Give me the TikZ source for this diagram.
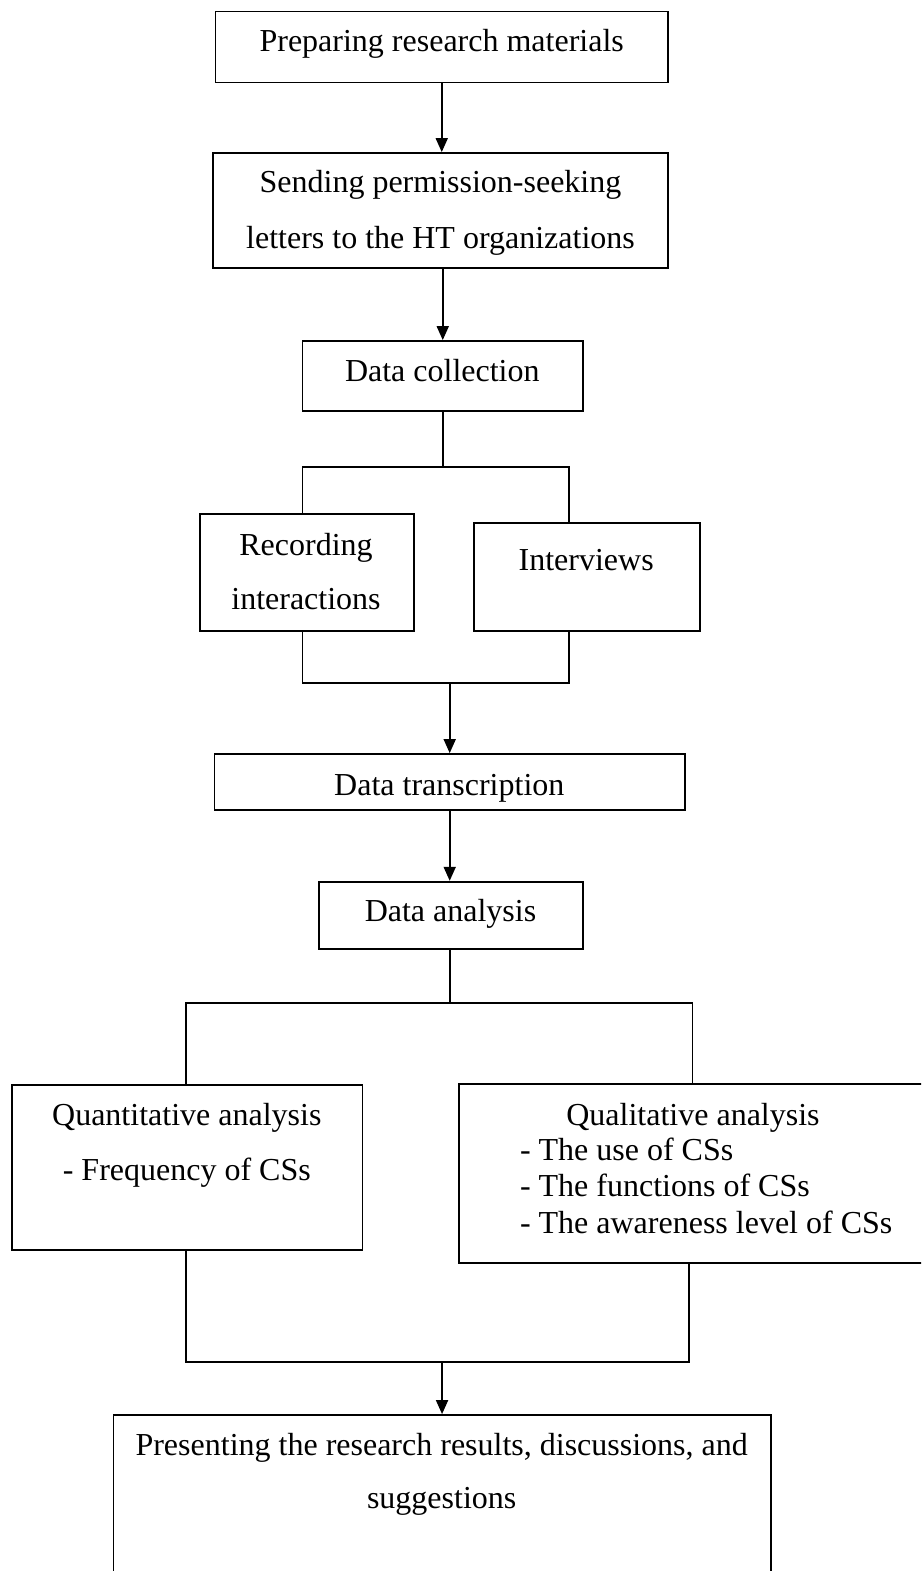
\documentclass[tikz,border=0pt]{standalone}
\usepackage{fontspec}
\setmainfont{Liberation Serif}
\usetikzlibrary{arrows.meta}
\begin{document}
\begin{tikzpicture}[x=1pt,y=-1pt,
  box/.style={draw, line width=1.8pt, inner sep=0pt, minimum width=#1},
  lbl/.style={anchor=base, inner sep=0pt, font=\fontsize{32}{38}\selectfont},
  lbll/.style={anchor=base west, inner sep=0pt, font=\fontsize{32}{38}\selectfont},
  conn/.style={line width=1.8pt},
  arr/.style={line width=1.8pt, -{Triangle[length=14pt,width=12pt]}}]
\useasboundingbox (0,0) rectangle (921,1571);
\clip (0,0) rectangle (921,1571);
% boxes
\node[box=452.5, minimum height=71] (b1) at (441.75,47) {};
\node[box=455, minimum height=115] (b2) at (440.5,210.5) {};
\node[box=280.5, minimum height=69.7] (b3) at (442.75,375.85) {};
\node[box=214.3, minimum height=116.7] (rec) at (306.85,572.35) {};
\node[box=226, minimum height=107.7] (int) at (587,577.15) {};
\node[box=470.6, minimum height=56] (tr) at (449.7,782) {};
\node[box=263.7, minimum height=67.6] (an) at (450.85,915.5) {};
\node[box=350.7, minimum height=165] (quant) at (187.05,1167.5) {};
\node[box=520.7, minimum height=179] (qual) at (719.65,1173.8) {};
\node[box=657.3, minimum height=185] (fin) at (442.05,1507.5) {};
% texts
\node[lbl] (t1) at (441.7,51.7) {Preparing research materials};
\node[lbl] (t2a) at (440.5,192.7) {Sending permission-seeking};
\node[lbl] (t2b) at (440.5,248.3) {letters to the HT organizations};
\node[lbl] (t3) at (442.3,381.7) {Data collection};
\node[lbl] (t4a) at (306,555) {Recording};
\node[lbl] (t4b) at (306,609.3) {interactions};
\node[lbl] (t5) at (586.2,570) {Interviews};
\node[lbl] (t6) at (449.3,795) {Data transcription};
\node[lbl] (t7) at (450.5,921.7) {Data analysis};
\node[lbl] (t8a) at (186.8,1125) {Quantitative analysis};
\node[lbl] (t8b) at (186.8,1180) {- Frequency of CSs};
\node[lbl] (t9) at (693,1125) {Qualitative analysis};
\node[lbll] (t9a) at (519.8,1160) {- The use of CSs};
\node[lbll] (t9b) at (519.8,1196.7) {- The functions of CSs};
\node[lbll] (t9c) at (519.8,1233.3) {- The awareness level of CSs};
\node[lbl] (t10a) at (441.7,1455) {Presenting the research results, discussions, and};
\node[lbl] (t10b) at (441.7,1508.3) {suggestions};
% coordinates
\coordinate (j1) at (442.75,467);
\coordinate (jL) at (302.5,467);
\coordinate (jR) at (568.6,467);
\coordinate (kL) at (302.5,683.3);
\coordinate (kR) at (568.6,683.3);
\coordinate (m1) at (449.7,1003.3);
\coordinate (mL) at (185.6,1003.3);
\coordinate (mR) at (692.5,1003.3);
\coordinate (nL) at (185.6,1361.7);
\coordinate (nR) at (689,1361.7);
% connectors
\draw[arr] (b1.south) -- (b1.south |- b2.north);
\draw[arr] (b3.north |- b2.south) -- (b3.north);
\draw[conn] (b3.south) -- (j1);
\draw[conn] (jL |- rec.north) -- (jL) -- (jR) -- (jR |- int.north);
\draw[conn] (kL |- rec.south) -- (kL) -- (kR) -- (kR |- int.south);
\draw[arr] (tr.north |- kL) -- (tr.north);
\draw[arr] (tr.south) -- (tr.south |- an.north);
\draw[conn] (an.south -| m1) -- (m1);
\draw[conn] (mL |- quant.north) -- (mL) -- (mR) -- (mR |- qual.north);
\draw[conn] (nL |- quant.south) -- (nL) -- (nR) -- (nR |- qual.south);
\draw[arr] (fin.north |- nL) -- (fin.north);
\end{tikzpicture}
\end{document}
